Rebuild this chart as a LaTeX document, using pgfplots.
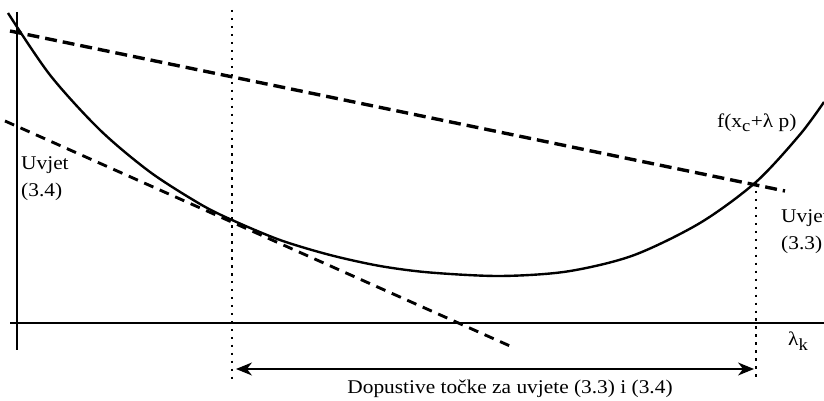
\documentclass[border=0pt]{standalone}
\usepackage{pgfplots}
\pgfplotsset{compat=1.18}
\usepackage{fontspec}
\setmainfont{Liberation Serif}[FakeStretch=1.1]
\usetikzlibrary{arrows.meta}
\begin{document}
\begin{tikzpicture}
\begin{axis}[
  width=824bp, height=401bp, scale only axis,
  xmin=0, xmax=824, ymin=0, ymax=401,
  hide axis, clip=false,
]
\path (axis cs:0,0) coordinate (ll) (axis cs:824,401) coordinate (ur);
% axes
\addplot[black, line width=1.5pt] coordinates {(17,389) (17,51)};
\addplot[black, line width=1.5pt] coordinates {(10,78) (824,78)};
% dotted verticals
\addplot[black, line width=1.8pt, dash pattern=on 2.5pt off 5.5pt] coordinates {(232,391) (232,19)};
\addplot[black, line width=1.8pt, dash pattern=on 2.5pt off 5.5pt] coordinates {(756,218) (756,21)};
% function
\addplot[black, line width=2.4pt, smooth, tension=0.5] coordinates {
(8,388) (50,326) (100,271) (150,229) (200,197) (232,181)
(280,161) (330,146) (380,135) (430,128.5) (500,125) (567,129.5) (633,145.5)
(700,178) (756,219) (800,266.5) (824,299)};
% upper dashed (condition 3.3)
\addplot[black, line width=3.4pt, dash pattern=on 12pt off 6pt] coordinates {(10,370) (785,210)};
% lower dashed tangent (condition 3.4)
\addplot[black, line width=2.9pt, dash pattern=on 10pt off 7pt] coordinates {(5,280) (510,55)};
% arrow
\addplot[black, line width=1.5pt, {Stealth[length=16pt,width=13pt,inset=5pt]}-{Stealth[length=16pt,width=13pt,inset=5pt]}] coordinates {(236,32) (754,32)};
% labels
\node[anchor=west, align=left, inner sep=0pt, font=\fontsize{19.5}{27}\selectfont] at (axis cs:21,222) {Uvjet\\(3.4)};
\node[anchor=west, align=left, inner sep=0pt, font=\fontsize{19.5}{27}\selectfont] at (axis cs:781,169) {Uvjet\\(3.3)};
\node[anchor=base west, inner sep=0pt, font=\fontsize{19.5}{23}\selectfont] at (axis cs:717,273) {f(x\textsubscript{\fontsize{17}{17}\selectfont c}+λ p)};
\node[anchor=base west, inner sep=0pt, font=\fontsize{19.5}{23}\selectfont] at (axis cs:788,55) {λ\textsubscript{\fontsize{17}{17}\selectfont k}};
\node[anchor=base, inner sep=0pt, font=\fontsize{19.5}{23}\selectfont] at (axis cs:510,8) {Dopustive točke za uvjete (3.3) i (3.4)};
\end{axis}
\pgfresetboundingbox
\useasboundingbox (ll) rectangle (ur);
\end{tikzpicture}
\end{document}
